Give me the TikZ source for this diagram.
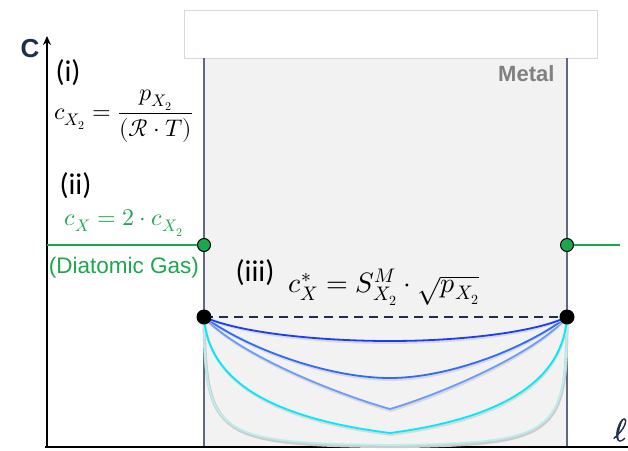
\documentclass[tikz,border=0pt]{standalone}
\usepackage{amsmath}
\usepackage{fontspec}
\usepackage{unicode-math}
\setmathfont{Latin Modern Math}
\newfontfamily\calfont{Carlito}
\newfontfamily\arialfont{Liberation Sans}
\newfontface\ellface[FakeBold=1.6]{Latin Modern Math}
\usetikzlibrary{arrows.meta}
\definecolor{navy}{HTML}{1F2D4F}
\definecolor{wallc}{HTML}{5B6B86}
\definecolor{metalbg}{HTML}{F2F2F2}
\definecolor{gasgreen}{HTML}{19A84E}
\definecolor{metaltext}{HTML}{808080}
\definecolor{cA}{HTML}{1A3CFF}
\definecolor{cB}{HTML}{2F6BFF}
\definecolor{cC}{HTML}{6A9CFF}
\definecolor{cD}{HTML}{00EAFF}
\definecolor{cE}{HTML}{B8EEEE}
\tikzset{
  wall/.style={draw=wallc, line width=1.2pt},
  gdot/.style={circle, fill=gasgreen, draw=black, line width=1pt, inner sep=0pt, minimum size=13pt},
  bdot/.style={circle, fill=black, inner sep=0pt, minimum size=15pt},
  roman/.style={font=\calfont\fontsize{30}{34}\selectfont},
  prof/.style={line width=1.8pt},
  shade/.style={line width=2.6pt, draw=gray!30, shift={(0.8pt,-1.6pt)}},
}
\begin{document}
\begin{tikzpicture}[x=1pt,y=-1pt]
\useasboundingbox (0,0) rectangle (628,450);
% metal region
\fill[metalbg] (204,58) rectangle (567,447);
\draw[gray!30, fill=white] (184,10) rectangle (597,58);
\draw[wall] (204,58) -- (204,447);
\draw[wall] (567,58) -- (567,447);
\node[anchor=east, font=\arialfont\bfseries\fontsize{22}{26}\selectfont, text=metaltext] (metal) at (558,74) {Metal};
% axes
\coordinate (O) at (45,447);
\coordinate (ytop) at (47,36);
\coordinate (yb) at (47,448);
\coordinate (xend) at (628,447);
\draw[line width=2.5pt] (O) -- (xend);
\draw[line width=2pt, -{Stealth[length=9pt,width=8pt]}] (yb) -- (ytop);
\node[font=\arialfont\bfseries\fontsize{26}{28}\selectfont, text=navy] (C) at (30,49) {C};
\node[text=navy, font=\ellface\fontsize{32}{34}\selectfont] (ell) at (620,430) {ℓ};
% gas phase
\node[gdot] (gL) at (204,245) {};
\node[gdot] (gR) at (567,245) {};
\coordinate (gl) at (47,245);
\coordinate (gr) at (620,245);
\draw[gasgreen, line width=2.5pt] (gl) -- (gL);
\draw[gasgreen, line width=2.5pt] (gR) -- (gr);
% labels left
\node[roman, anchor=west] (i) at (52,73) {(i)};
\node[font=\fontsize{24}{28}\selectfont] (eq1) at (124,116) {$c_{X_2} = \dfrac{p_{X_2}}{(\mathcal{R}\cdot T)}$};
\node[roman, anchor=west] (ii) at (56,186) {(ii)};
\node[text=gasgreen, font=\fontsize{24}{28}\selectfont] (eq2) at (124,223) {$c_X = 2\cdot c_{X_2}$};
\node[text=gasgreen, font=\arialfont\fontsize{22.5}{26}\selectfont] (gas) at (124,268) {(Diatomic Gas)};
% (iii)
\node[roman] (iii) at (255,273) {(iii)};
\node[font=\fontsize{28}{32}\selectfont] (eq3) at (384,287) {$c_X^* = S_{X_2}^M\cdot\sqrt{p_{X_2}}$};
% profiles
\coordinate (pL) at (204,317);
\coordinate (pR) at (567,317);
\draw[shade, line width=3.2pt, draw=gray!40] (pL) .. controls (205,435) and (215,443) .. (390,445) .. controls (556,443) and (566,435) .. (pR);
\draw[prof, cE] (pL) .. controls (205,435) and (215,443) .. (390,445) .. controls (556,443) and (566,435) .. (pR);
\draw[shade] (pL) .. controls (208,380) and (270,418) .. (390,433) .. controls (504,418) and (563,380) .. (pR);
\draw[prof, cD] (pL) .. controls (208,380) and (270,418) .. (390,433) .. controls (504,418) and (563,380) .. (pR);
\draw[shade] (pL) .. controls (235,352) and (330,392) .. (390,409) .. controls (447,392) and (537,352) .. (pR);
\draw[prof, cC] (pL) .. controls (235,352) and (330,392) .. (390,409) .. controls (447,392) and (537,352) .. (pR);
\draw[shade] (pL) .. controls (250,350) and (330,378) .. (390,378) .. controls (447,378) and (523,350) .. (pR);
\draw[prof, cB] (pL) .. controls (250,350) and (330,378) .. (390,378) .. controls (447,378) and (523,350) .. (pR);
\draw[shade] (pL) .. controls (240,333) and (320,341) .. (390,341) .. controls (457,341) and (533,333) .. (pR);
\draw[prof, cA] (pL) .. controls (240,333) and (320,341) .. (390,341) .. controls (457,341) and (533,333) .. (pR);
% dashed equilibrium line
\draw[navy, line width=2pt, dash pattern=on 9pt off 6pt] (pL) -- (pR);
\node[bdot] (bL) at (pL) {};
\node[bdot] (bR) at (pR) {};
\end{tikzpicture}
\end{document}
